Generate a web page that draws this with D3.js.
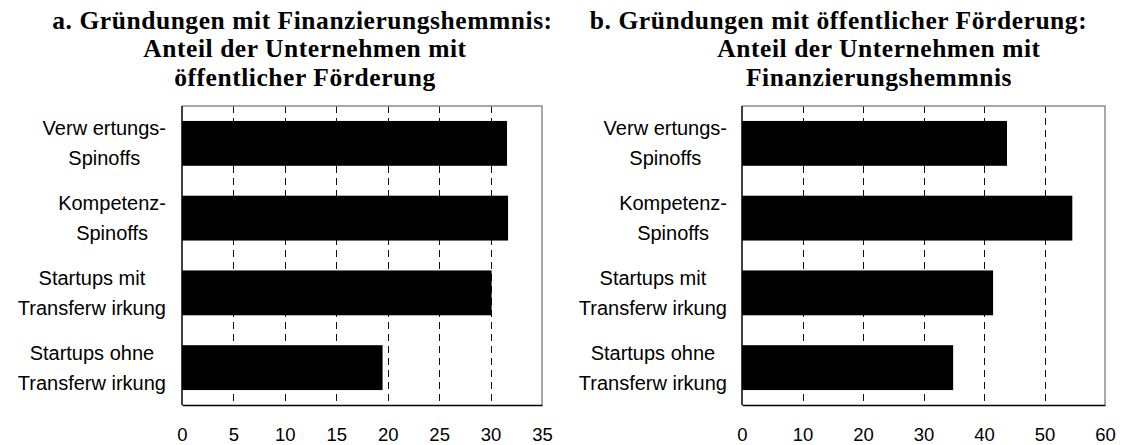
<!DOCTYPE html>
<html>
<head>
<meta charset="utf-8">
<script src="https://cdn.jsdelivr.net/npm/d3@7"></script>
<style>
  html, body { margin: 0; padding: 0; background: #fff; }
  svg { display: block; }
  .title { font-family: "Liberation Serif", "Times New Roman", serif; font-weight: bold; font-size: 25.5px; letter-spacing: 0.55px; fill: #000; }
  .cat { font-family: "Liberation Sans", Arial, sans-serif; font-size: 20px; fill: #000; }
  .tick text { font-family: "Liberation Sans", Arial, sans-serif; font-size: 18.5px; fill: #000; }
</style>
</head>
<body>
<svg id="chart" width="1126" height="445"></svg>
<script>
// Category labels (each entry is split into lines at "|")
const categories = [
  "Verw ertungs-|Spinoffs",
  "Kompetenz-|Spinoffs",
  "Startups mit|Transferw irkung",
  "Startups ohne|Transferw irkung"
];

// a: start-ups with financing constraints — share with public funding (%)
const shareFundedA = [31.6, 31.7, 30.1, 19.5];
// b: start-ups with public funding — share with financing constraints (%)
const shareConstrainedB = [43.8, 54.6, 41.5, 34.9];

const ticksA = [0, 5, 10, 15, 20, 25, 30, 35];
const ticksB = [0, 10, 20, 30, 40, 50, 60];

const titleA = ["a. Gründungen mit Finanzierungshemmnis:", "Anteil der Unternehmen mit", "öffentlicher Förderung"];
const titleB = ["b. Gründungen mit öffentlicher Förderung:", "Anteil der Unternehmen mit", "Finanzierungshemmnis"];

const svg = d3.select("#chart");

const panels = [
  { values: shareFundedA, ticks: ticksA, title: titleA,
    x0: 182, x1: 542, titleCx: [302.5, 305, 305], labelRight: 166 },
  { values: shareConstrainedB, ticks: ticksB, title: titleB,
    x0: 742, x1: 1105, titleCx: [838.5, 879, 879], labelRight: 727 }
];

const plotTop = 106, plotBottom = 405;
const titleBaselines = [28.5, 57, 85.5];

panels.forEach(p => {
  const g = svg.append("g");
  const x = d3.scaleLinear()
    .domain([p.ticks[0], p.ticks[p.ticks.length - 1]])
    .range([p.x0, p.x1]);
  const y = d3.scaleBand()
    .domain(categories)
    .range([plotTop, plotBottom])
    .paddingInner(0.4)
    .paddingOuter(0.2);

  // title
  p.title.forEach((line, i) => {
    g.append("text").attr("class", "title")
      .attr("x", p.titleCx[i]).attr("y", titleBaselines[i])
      .attr("text-anchor", "middle")
      .text(line);
  });

  // dashed vertical gridlines
  g.append("g").selectAll("line")
    .data(p.ticks.slice(1, -1))
    .join("line")
    .attr("x1", d => Math.round(x(d)) + 0.5).attr("x2", d => Math.round(x(d)) + 0.5)
    .attr("y1", plotTop).attr("y2", plotBottom)
    .attr("stroke", "#111").attr("stroke-width", 1)
    .attr("stroke-dasharray", "7,5");

  // frame: top and right in grey
  g.append("path")
    .attr("d", `M${p.x0},${plotTop}H${p.x1}V${plotBottom}`)
    .attr("fill", "none").attr("stroke", "#8c8c8c").attr("stroke-width", 1.5);

  // bars
  g.append("g").selectAll("rect")
    .data(p.values)
    .join("rect")
    .attr("x", x(0))
    .attr("y", (d, i) => y(categories[i]))
    .attr("width", d => x(d) - x(0))
    .attr("height", y.bandwidth())
    .attr("fill", "#000");

  // left axis line
  g.append("line")
    .attr("x1", p.x0).attr("x2", p.x0)
    .attr("y1", plotTop).attr("y2", plotBottom)
    .attr("stroke", "#000").attr("stroke-width", 1.5);

  // bottom axis with tick labels
  const ax = g.append("g")
    .attr("transform", `translate(0,${plotBottom})`)
    .call(d3.axisBottom(x).tickValues(p.ticks).tickSize(0).tickFormat(d3.format("d")));
  ax.select(".domain").attr("stroke", "#000").attr("stroke-width", 1.5);
  ax.selectAll(".tick text").attr("y", 36).attr("dy", 0);

  // category labels: block right-aligned, lines centered within block
  categories.forEach(c => {
    const lines = c.split("|");
    const cy = y(c) + y.bandwidth() / 2;
    const lh = 30;
    const texts = lines.map((l, i) => g.append("text").attr("class", "cat")
      .attr("y", cy + (i - (lines.length - 1) / 2) * lh)
      .attr("dy", "0.35em")
      .attr("text-anchor", "middle")
      .text(l));
    const maxW = d3.max(texts, t => t.node().getComputedTextLength());
    texts.forEach(t => t.attr("x", p.labelRight - maxW / 2));
  });
});
</script>
</body>
</html>
